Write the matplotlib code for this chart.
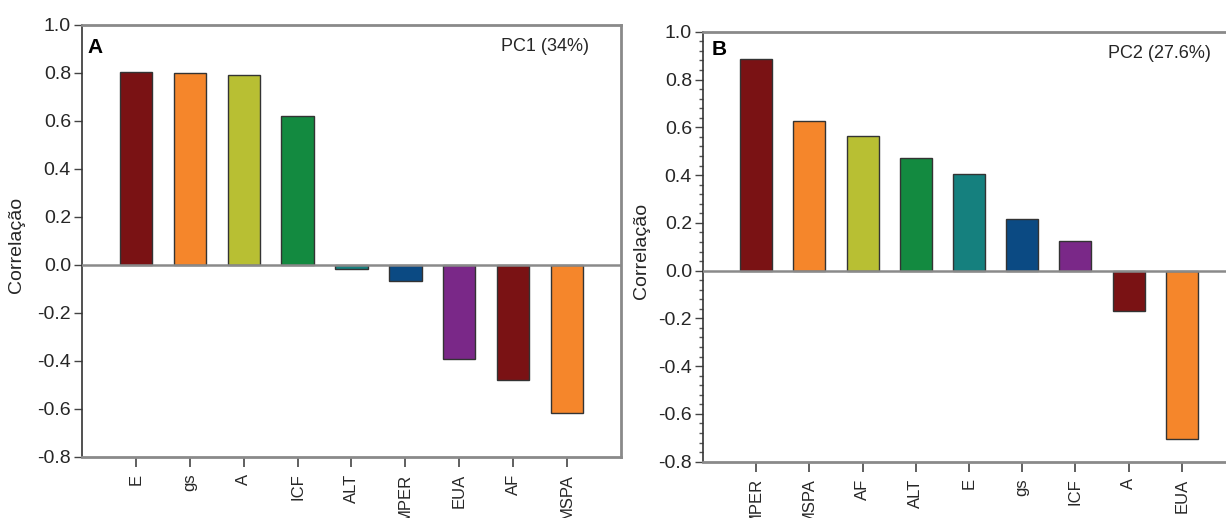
import matplotlib.pyplot as plt
import numpy as np
from matplotlib.ticker import AutoMinorLocator

plt.rcParams['font.family'] = ['Liberation Sans', 'DejaVu Sans']
plt.rcParams['axes.unicode_minus'] = False

# PC1 loadings
pc1_vars = ["E", "gs", "A", "ICF", "ALT", "MPER", "EUA", "AF", "MSPA"]
pc1_corr = [0.805, 0.80, 0.79, 0.62, -0.017, -0.067, -0.39, -0.48, -0.615]

# PC2 loadings
pc2_vars = ["MPER", "MSPA", "AF", "ALT", "E", "gs", "ICF", "A", "EUA"]
pc2_corr = [0.888, 0.626, 0.565, 0.47, 0.406, 0.215, 0.125, -0.17, -0.703]

palette = ["#7A1214", "#F5862B", "#B8BF33", "#138A40", "#15807E", "#0B4A83", "#7A2888"]
y_ticks = [-0.8, -0.6, -0.4, -0.2, 0.0, 0.2, 0.4, 0.6, 0.8, 1.0]

spine_gray = "#8a8a8a"
text_col = "#262626"


def panel(ax, names, values, letter, title, minor=False, title_x=0.94,
          letter_pos=(0.011, 0.948), ylab_x=-0.106):
    x = np.arange(len(names))
    cols = [palette[i % len(palette)] for i in range(len(names))]
    ax.bar(x, values, width=0.6, color=cols, edgecolor="#333333", linewidth=1.0, zorder=2)
    ax.axhline(0, color=spine_gray, linewidth=1.8, zorder=3)
    ax.set_xlim(-1, 9)
    ax.set_ylim(-0.8, 1.0)
    ax.set_yticks(y_ticks)
    ax.set_yticklabels(["%.1f" % v for v in y_ticks])
    ax.set_xticks(x)
    ax.set_xticklabels(names, rotation=90)
    if minor:
        ax.yaxis.set_minor_locator(AutoMinorLocator(5))
        ax.tick_params(axis="y", which="minor", direction="out", length=3, width=1, color="#555555")
    ax.tick_params(axis="y", which="major", direction="out", length=6, width=1, color="#444444",
                   labelsize=14, labelcolor=text_col, pad=2)
    ax.tick_params(axis="x", which="major", direction="out", length=7, width=1.2, color="#444444",
                   labelsize=12, labelcolor=text_col, pad=5)
    for s in ["top", "bottom", "right"]:
        ax.spines[s].set_color(spine_gray)
        ax.spines[s].set_linewidth(2)
    ax.spines["left"].set_color("#333333")
    ax.spines["left"].set_linewidth(1.2)
    ax.set_ylabel("Correlação", fontsize=14, color=text_col)
    ax.yaxis.set_label_coords(ylab_x, 0.49)
    ax.text(letter_pos[0], letter_pos[1], letter, transform=ax.transAxes, fontsize=15,
            fontweight="bold", ha="left", va="center", color="black")
    ax.text(title_x, 0.95, title, transform=ax.transAxes, fontsize=13,
            ha="right", va="center", color=text_col)


fig = plt.figure(figsize=(12.26, 5.18), dpi=100)
ax1 = fig.add_axes([0.0669, 0.1178, 0.4396, 0.834])
ax2 = fig.add_axes([0.5734, 0.1087, 0.434, 0.830])

panel(ax1, pc1_vars, pc1_corr, "A", "PC1 (34%)", title_x=0.94,
      letter_pos=(0.011, 0.948), ylab_x=-0.106)
panel(ax2, pc2_vars, pc2_corr, "B", "PC2 (27.6%)", minor=True, title_x=0.955,
      letter_pos=(0.017, 0.958), ylab_x=-0.100)

fig.savefig("out.png", dpi=100)
